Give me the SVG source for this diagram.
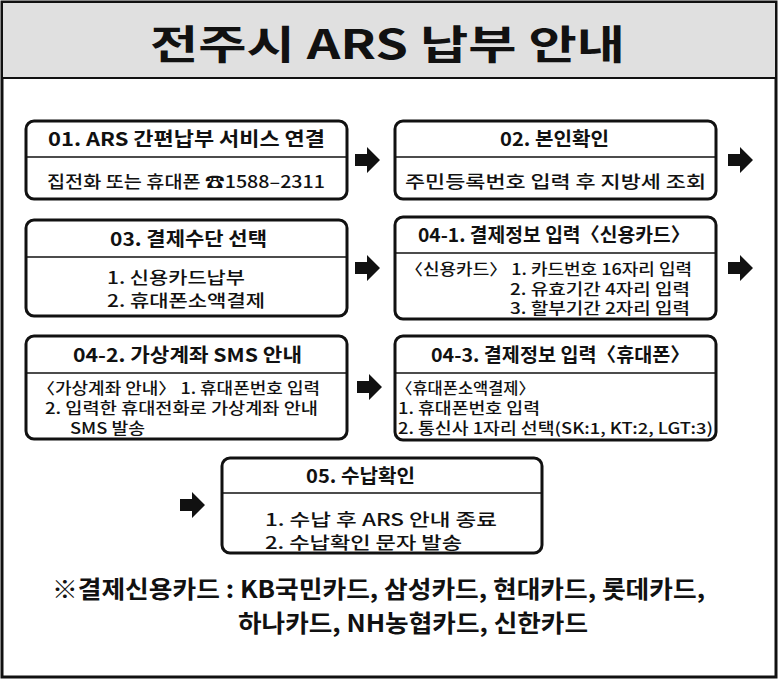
<svg xmlns="http://www.w3.org/2000/svg" width="778" height="679" viewBox="0 0 778 679">
<style>
.b{fill:#fff;stroke:#111;stroke-width:3}
.d{stroke:#111;stroke-width:1.5}
text{font-family:"Noto Sans CJK KR","Noto Sans",sans-serif;fill:#111}
.h{font-size:19px;font-weight:bold}
.t{font-size:17px;font-weight:500}
.s{font-size:15.5px;font-weight:500}
</style>
<defs><path id="ar" d="M0,-6 H12 V-13 L25,0 L12,13 V6 H0 Z" fill="#111"/></defs>
<rect x="2" y="2" width="774" height="675" fill="#fff" stroke="#111" stroke-width="3"/>
<rect x="3" y="3" width="772" height="75" fill="#e0e0e0"/>
<line x1="3" y1="78" x2="775" y2="78" stroke="#111" stroke-width="2"/>
<text x="150" y="59" font-size="40" font-weight="bold" textLength="475" lengthAdjust="spacingAndGlyphs">전주시 ARS 납부 안내</text>
<g id="connectors">
<use href="#ar" x="355" y="160"/><use href="#ar" x="728" y="160"/>
<use href="#ar" x="355" y="268"/><use href="#ar" x="728" y="268"/>
<use href="#ar" x="357" y="387"/><use href="#ar" x="180" y="505"/>
</g>
<g id="n1"><rect class="b" x="26" y="121" width="321" height="78" rx="8"/><line class="d" x1="26" y1="157" x2="347" y2="157"/>
<text class="h" x="48" y="146" textLength="277" lengthAdjust="spacingAndGlyphs">01. ARS 간편납부 서비스 연결</text>
<text class="t" x="47" y="188" textLength="278" lengthAdjust="spacingAndGlyphs">집전화 또는 휴대폰 ☎1588–2311</text></g>
<g id="n2"><rect class="b" x="395" y="121" width="321" height="78" rx="8"/><line class="d" x1="395" y1="157" x2="716" y2="157"/>
<text class="h" x="500" y="146" textLength="109" lengthAdjust="spacingAndGlyphs">02. 본인확인</text>
<text class="t" x="405" y="188" textLength="301" lengthAdjust="spacingAndGlyphs">주민등록번호 입력 후 지방세 조회</text></g>
<g id="n3"><rect class="b" x="26" y="220" width="321" height="96" rx="8"/><line class="d" x1="26" y1="257" x2="347" y2="257"/>
<text class="h" x="110" y="246" textLength="157" lengthAdjust="spacingAndGlyphs">03. 결제수단 선택</text>
<text class="t" x="107" y="284" textLength="138" lengthAdjust="spacingAndGlyphs">1. 신용카드납부</text>
<text class="t" x="107" y="307" textLength="158" lengthAdjust="spacingAndGlyphs">2. 휴대폰소액결제</text></g>
<g id="n4"><rect class="b" x="395" y="217" width="321" height="102" rx="8"/><line class="d" x1="395" y1="253" x2="716" y2="253"/>
<text class="h" x="418" y="242" textLength="272" lengthAdjust="spacingAndGlyphs">04-1. 결제정보 입력〈신용카드〉</text>
<text class="s" x="405" y="275" textLength="287" lengthAdjust="spacingAndGlyphs">〈신용카드〉 1. 카드번호 16자리 입력</text>
<text class="s" x="510" y="295" textLength="180" lengthAdjust="spacingAndGlyphs">2. 유효기간 4자리 입력</text>
<text class="s" x="510" y="314" textLength="180" lengthAdjust="spacingAndGlyphs">3. 할부기간 2자리 입력</text></g>
<g id="n5"><rect class="b" x="26" y="336" width="321" height="103" rx="8"/><line class="d" x1="26" y1="373" x2="347" y2="373"/>
<text class="h" x="73" y="362" textLength="229" lengthAdjust="spacingAndGlyphs">04-2. 가상계좌 SMS 안내</text>
<text class="s" x="37" y="394" textLength="283" lengthAdjust="spacingAndGlyphs">〈가상계좌 안내〉  1. 휴대폰번호 입력</text>
<text class="s" x="45" y="414" textLength="273" lengthAdjust="spacingAndGlyphs">2. 입력한 휴대전화로 가상계좌 안내</text>
<text class="s" x="70" y="434" textLength="75" lengthAdjust="spacingAndGlyphs">SMS 발송</text></g>
<g id="n6"><rect class="b" x="395" y="336" width="321" height="104" rx="8"/><line class="d" x1="395" y1="373" x2="716" y2="373"/>
<text class="h" x="431" y="362" textLength="259" lengthAdjust="spacingAndGlyphs">04-3. 결제정보 입력〈휴대폰〉</text>
<text class="s" x="396" y="394" textLength="139" lengthAdjust="spacingAndGlyphs">〈휴대폰소액결제〉</text>
<text class="s" x="398" y="414" textLength="142" lengthAdjust="spacingAndGlyphs">1. 휴대폰번호 입력</text>
<text class="s" x="398" y="434" textLength="315" lengthAdjust="spacingAndGlyphs">2. 통신사 1자리 선택(SK:1, KT:2, LGT:3)</text></g>
<g id="n7"><rect class="b" x="222" y="458" width="320" height="95" rx="8"/><line class="d" x1="222" y1="493" x2="542" y2="493"/>
<text class="h" x="306" y="483" textLength="109" lengthAdjust="spacingAndGlyphs">05. 수납확인</text>
<text class="t" x="265" y="526" textLength="232" lengthAdjust="spacingAndGlyphs">1. 수납 후 ARS 안내 종료</text>
<text class="t" x="265" y="549" textLength="197" lengthAdjust="spacingAndGlyphs">2. 수납확인 문자 발송</text></g>
<text x="52" y="598" font-size="24" font-weight="bold" textLength="653" lengthAdjust="spacingAndGlyphs">※결제신용카드 : KB국민카드, 삼성카드, 현대카드, 롯데카드,</text>
<text x="238" y="632" font-size="24" font-weight="bold" textLength="350" lengthAdjust="spacingAndGlyphs">하나카드, NH농협카드, 신한카드</text>
</svg>
